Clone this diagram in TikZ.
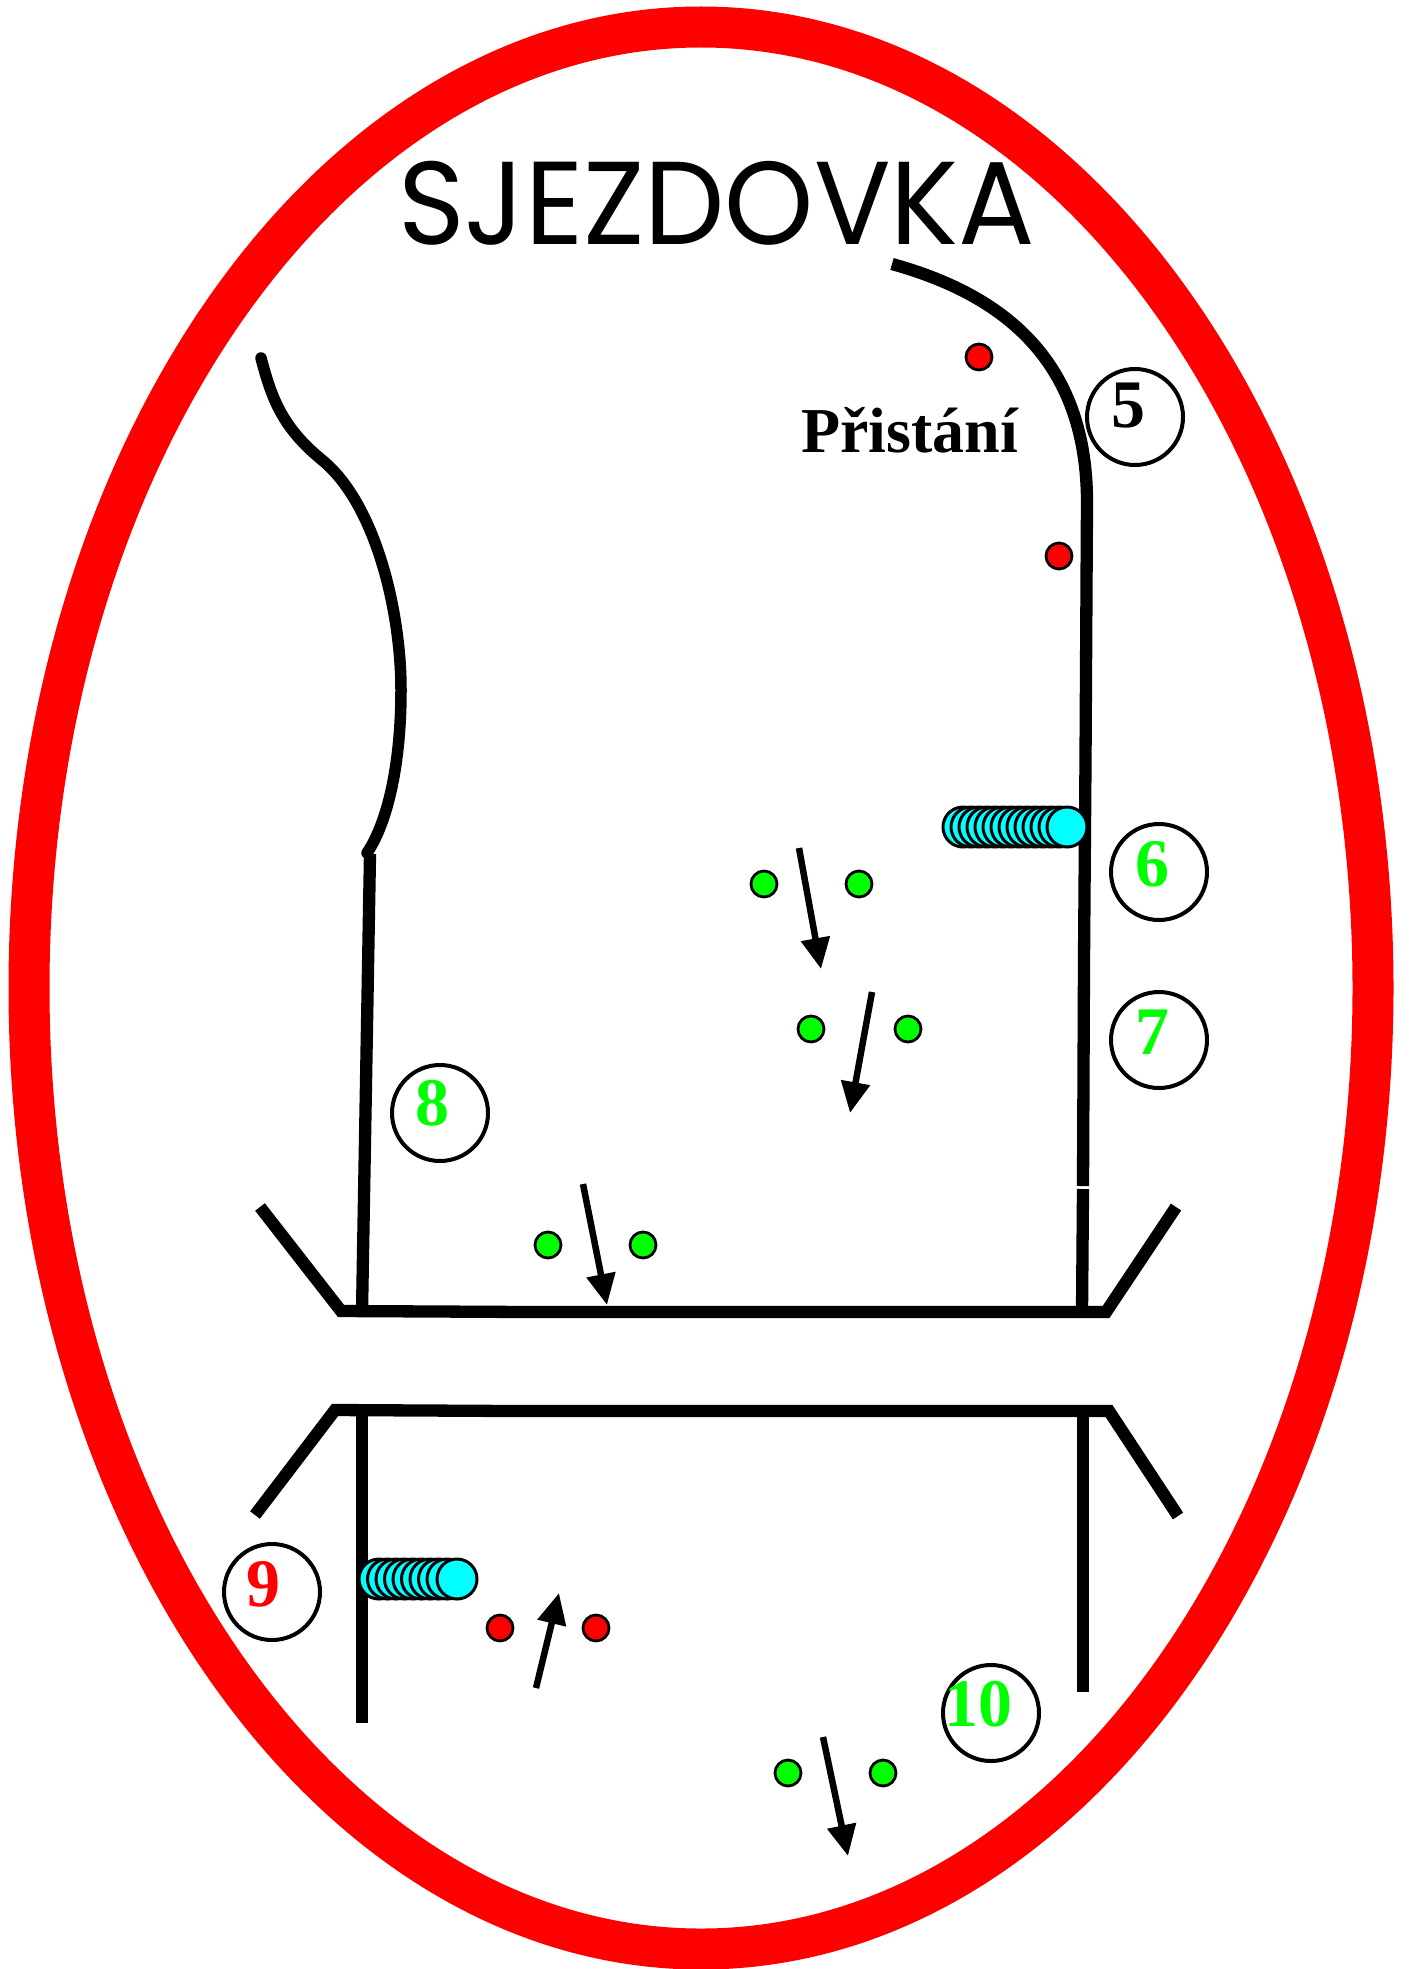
\documentclass[tikz,border=0pt]{standalone}
\usepackage{fontspec}
\usetikzlibrary{arrows.meta}
\setmainfont{Liberation Serif}
\newfontfamily\titlefont{Poppins}
\definecolor{rimred}{RGB}{255,0,0}
\definecolor{signgreen}{RGB}{0,255,0}
\definecolor{rodcyan}{RGB}{0,255,255}
\tikzset{
  wall/.style={draw=black,line width=12.3pt,line join=miter},
  numring/.style={circle,draw=black,line width=4pt,fill=white,minimum size=96pt,inner sep=0pt},
  numtext/.style={font=\fontsize{68}{68}\selectfont\bfseries,inner sep=0pt,anchor=center},
  dotmark/.style={circle,draw=black,line width=2.8pt,minimum size=26pt,inner sep=0pt},
  reddot/.style={dotmark,fill=rimred},
  greendot/.style={dotmark,fill=signgreen},
  flowarrow/.style={draw=black,line width=6.5pt,-{Triangle[length=31pt,width=28pt]}},
  rodball/.style={circle,draw=black,line width=3pt,fill=rodcyan,minimum size=40pt,inner sep=0pt},
}
\begin{document}
\begin{tikzpicture}[x=1pt,y=-1pt]
\useasboundingbox (0,0) rectangle (1408,1969);
\fill[white] (0,0) rectangle (1408,1969);
\draw[rimred,line width=41pt] (701,988) ellipse [x radius=672,y radius=961];

\node[inner sep=0pt,anchor=base west] (title) at (398,245) {\titlefont\fontsize{118}{118}\selectfont\scalebox{0.962}[1]{SJEZDOVKA}};
\node[inner sep=0pt,anchor=base west] (landing) at (801,452) {\fontsize{64}{64}\selectfont\bfseries Přistání};

% upper piste
\draw[wall] (892,264) .. controls (1015,298) and (1086,370) .. (1087,500) -- (1085.5,760) -- (1084,960) -- (1083,1186);
\draw[wall] (1083,1189) -- (1082,1312);
\draw[wall,line width=11.5pt,line cap=round] (261,358) .. controls (272,400) and (283,428) .. (322,460) .. controls (375,503) and (401,610) .. (401,690) .. controls (401,760) and (389,820) .. (367,853);
\draw[wall] (370,854) -- (362,1312);
\draw[wall] (260,1207) -- (341,1311) -- (528,1312) -- (1106,1312) -- (1176,1207);

% lower piste
\draw[wall] (255,1515) -- (335,1410) -- (512,1411) -- (1109,1411) -- (1178,1516);
\draw[wall] (362,1411) -- (362,1723);
\draw[wall] (1083,1411) -- (1083,1692);

% rods
\fill[black] (963,807) rectangle (1067,847);
\foreach \cx in {963,971,...,1059} \node[rodball] at (\cx,827) {};
\node[rodball] (rodA) at (1067,827) {};
\fill[black] (379,1559) rectangle (457,1599);
\foreach \cx in {379,387.5,...,449} \node[rodball] at (\cx,1579) {};
\node[rodball] (rodB) at (457,1579) {};

% rings
\node[numring] (r5) at (1135,417) {};
\node[numring] (r6) at (1159,872) {};
\node[numring] (r7) at (1159,1040) {};
\node[numring] (r8) at (440,1113) {};
\node[numring] (r9) at (272,1592) {};
\node[numring] (r10) at (991,1713) {};
\node[numtext,text=black] (n5) at (1128,406) {5};
\node[numtext,text=signgreen] (n6) at (1152,864) {6};
\node[numtext,text=signgreen] (n7) at (1152,1032) {7};
\node[numtext,text=signgreen] (n8) at (432,1103) {8};
\node[numtext,text=rimred] (n9) at (263,1584) {9};
\node[numtext,text=signgreen] (n10) at (978,1704) {10};

% dots
\node[reddot] (ra) at (979,357) {};
\node[reddot] (rb) at (1059,556) {};
\node[greendot] (ga) at (764,884) {};
\node[greendot] (gb) at (859,884) {};
\node[greendot] (gc) at (811,1029) {};
\node[greendot] (gd) at (908,1029) {};
\node[greendot] (ge) at (548,1245) {};
\node[greendot] (gf) at (643,1245) {};
\node[greendot] (gg) at (788,1773) {};
\node[greendot] (gh) at (883,1773) {};
\node[reddot] (rc) at (500,1628) {};
\node[reddot] (rd) at (596,1628) {};

% arrows
\coordinate (a1s) at (799,848); \coordinate (a1e) at (821,969);
\coordinate (a2s) at (872,992); \coordinate (a2e) at (850,1113);
\coordinate (a3s) at (583,1184); \coordinate (a3e) at (607,1305);
\coordinate (a4s) at (536,1688); \coordinate (a4e) at (559,1593);
\coordinate (a5s) at (823,1737); \coordinate (a5e) at (848,1856);
\draw[flowarrow] (a1s) -- (a1e);
\draw[flowarrow] (a2s) -- (a2e);
\draw[flowarrow] (a3s) -- (a3e);
\draw[flowarrow] (a4s) -- (a4e);
\draw[flowarrow] (a5s) -- (a5e);
\end{tikzpicture}
\end{document}
